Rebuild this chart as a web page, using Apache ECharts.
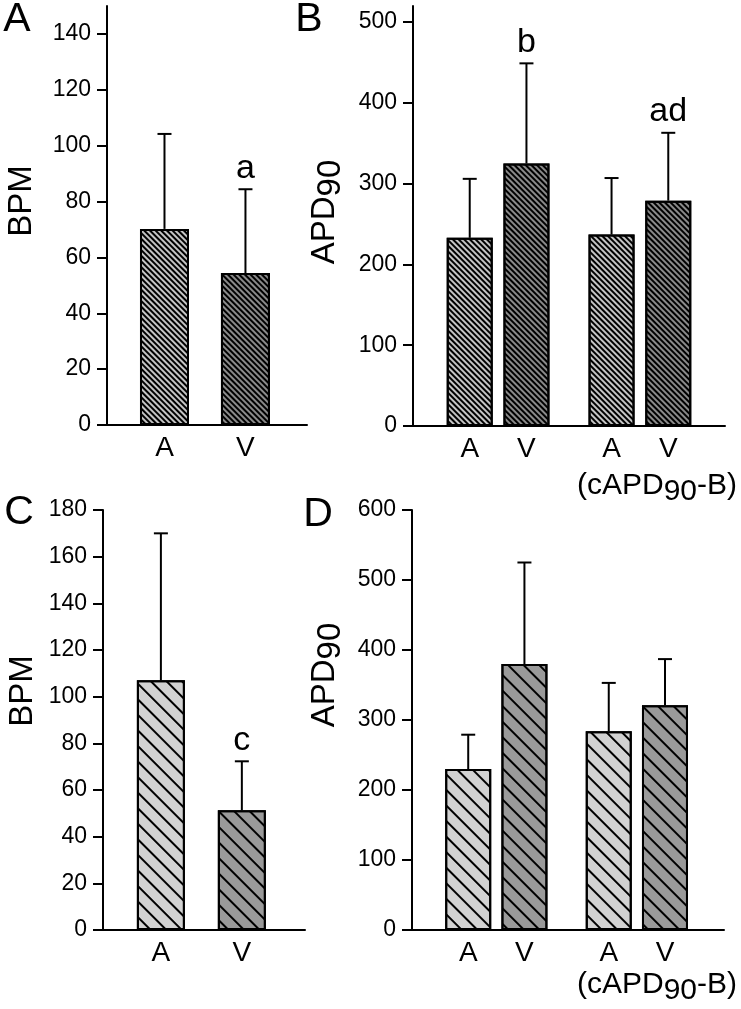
<!DOCTYPE html>
<html><head><meta charset="utf-8">
<script src="https://cdn.jsdelivr.net/npm/echarts@6/dist/echarts.min.js"></script>
<style>html,body{margin:0;padding:0;background:#fff}#c{width:741px;height:1009px}</style>
</head><body><div id="c"></div>
<script>
// ---- data ----
const groupsA = ['A', 'V'];
const bpmAMean = [70.2, 54.4];
const bpmAErr = [34.0, 30.0];
const bpmATicks = [0, 20, 40, 60, 80, 100, 120, 140];
const notesA = ['', 'a'];

const groupsB = ['A', 'V', 'A', 'V'];
const apdBMean = [233, 325, 237, 279];
const apdBErr = [73, 124, 70, 84];
const apdBTicks = [0, 100, 200, 300, 400, 500];
const notesB = ['', 'b', '', 'ad'];

const groupsC = ['A', 'V'];
const bpmCMean = [107, 51.3];
const bpmCErr = [63, 21];
const bpmCTicks = [0, 20, 40, 60, 80, 100, 120, 140, 160, 180];
const notesC = ['', 'c'];

const groupsD = ['A', 'V', 'A', 'V'];
const apdDMean = [230, 380, 284, 321];
const apdDErr = [49, 145, 69, 66];
const apdDTicks = [0, 100, 200, 300, 400, 500, 600];
const notesD = ['', '', '', ''];

// ---- layout / style ----
const FONT = '"Liberation Sans", Arial, Helvetica, sans-serif';
function slotPos(n) { const p = []; for (let i = 0; i < n; i++) p.push(i + 0.5 * Math.floor(i / 2)); return p; }

const fine = {
  light: '#c4c4c4', dark: '#8a8a8a',
  decal: { symbol: 'rect', symbolSize: 1, dashArrayX: [[1, 0]], dashArrayY: [2, 2], rotation: Math.PI / 4, color: '#000' }
};
const coarse = {
  light: '#d2d2d2', dark: '#9a9a9a',
  decal: { symbol: 'rect', symbolSize: 1, dashArrayX: [[1, 0]], dashArrayY: [2, 9], rotation: Math.PI / 4, color: '#000' }
};

const panels = [
  { cats: groupsA, mean: bpmAMean, err: bpmAErr, ticks: bpmATicks, notes: notesA, yMax: 150,
    grid: { left: 107, top: 6, width: 200, height: 419 }, xMin: -0.71, xMax: 1.76, barWidth: 49, hatch: fine },
  { cats: groupsB, mean: apdBMean, err: apdBErr, ticks: apdBTicks, notes: notesB, yMax: 520,
    grid: { left: 413, top: 6, width: 312, height: 420 }, xMin: -1, xMax: 4.5, barWidth: 46, hatch: fine },
  { cats: groupsC, mean: bpmCMean, err: bpmCErr, ticks: bpmCTicks, notes: notesC, yMax: 180,
    grid: { left: 103, top: 510, width: 202, height: 420 }, xMin: -0.715, xMax: 1.78, barWidth: 48, hatch: coarse },
  { cats: groupsD, mean: apdDMean, err: apdDErr, ticks: apdDTicks, notes: notesD, yMax: 600,
    grid: { left: 412, top: 510, width: 312, height: 420 }, xMin: -1, xMax: 4.55, barWidth: 46, hatch: coarse }
];

const grids = [], xAxes = [], yAxes = [], series = [];
panels.forEach((p, k) => {
  const pos = slotPos(p.cats.length);
  grids.push(Object.assign({ outerBoundsMode: 'none', containLabel: false }, p.grid));
  xAxes.push({
    type: 'value', gridIndex: k, min: p.xMin, max: p.xMax,
    splitLine: { show: false }, axisTick: { show: false },
    axisLine: { show: true, onZero: false, lineStyle: { color: '#000', width: 2 } },
    axisLabel: {
      customValues: pos, margin: 9, fontSize: 28, color: '#000', fontFamily: FONT,
      formatter: v => { const i = pos.findIndex(q => Math.abs(q - v) < 1e-6); return i >= 0 ? p.cats[i] : ''; }
    }
  });
  yAxes.push({
    type: 'value', gridIndex: k, min: 0, max: p.yMax,
    splitLine: { show: false },
    axisLine: { show: true, onZero: false, lineStyle: { color: '#000', width: 2 } },
    axisTick: { show: true, length: 10, customValues: p.ticks, lineStyle: { color: '#000', width: 2 } },
    axisLabel: { customValues: p.ticks, margin: 16, fontSize: 23, color: '#000', fontFamily: FONT }
  });
  series.push({
    type: 'bar', xAxisIndex: k, yAxisIndex: k, barWidth: p.barWidth,
    data: p.mean.map((m, i) => ({
      value: [pos[i], m],
      itemStyle: {
        color: p.cats[i] === 'A' ? p.hatch.light : p.hatch.dark,
        borderColor: '#000', borderWidth: 2,
        decal: p.hatch.decal
      }
    }))
  });
  series.push({
    type: 'custom', xAxisIndex: k, yAxisIndex: k, z: 5,
    encode: { x: 0, y: 1 },
    data: p.mean.map((m, i) => [pos[i], m, p.err[i]]),
    renderItem: (params, api) => {
      const x = api.value(0), m = api.value(1), e = api.value(2);
      const p0 = api.coord([x, m]), p1 = api.coord([x, m + e]);
      const ch = [
        { type: 'line', shape: { x1: p0[0], y1: p0[1], x2: p1[0], y2: p1[1] }, style: { stroke: '#000', lineWidth: 2 } },
        { type: 'line', shape: { x1: p1[0] - 7, y1: p1[1], x2: p1[0] + 7, y2: p1[1] }, style: { stroke: '#000', lineWidth: 2 } }
      ];
      const note = p.notes[params.dataIndex];
      if (note) ch.push({ type: 'text', style: { text: note, x: p1[0], y: p1[1] - 4, align: 'center', verticalAlign: 'bottom', fontSize: 34, fontFamily: FONT, fill: '#000' } });
      return { type: 'group', children: ch };
    }
  });
});

function txt(text, x, y, size, rot, rich) {
  return { type: 'text', x: x, y: y, rotation: rot || 0,
    style: { text: text, fontSize: size, fontFamily: FONT, fill: '#000', align: 'center', verticalAlign: 'middle', rich: rich } };
}
const subRich = {
  m: { fontSize: 30, fontFamily: FONT, verticalAlign: 'top', lineHeight: 36 },
  s: { fontSize: 30, fontFamily: FONT, verticalAlign: 'top', lineHeight: 36, padding: [6, 0, 0, 0] }
};
const ySubRich = {
  m: { fontSize: 33, fontFamily: FONT, verticalAlign: 'top', lineHeight: 38 },
  s: { fontSize: 33, fontFamily: FONT, verticalAlign: 'top', lineHeight: 38, padding: [6, 0, 0, 0] }
};
const graphics = [
  txt('A', 17, 20, 41), txt('B', 309, 20, 41), txt('C', 19, 513, 41), txt('D', 318, 515, 41),
  txt('BPM', 22, 201, 33, Math.PI / 2), txt('BPM', 23, 691, 33, Math.PI / 2),
  txt('{m|APD}{s|90}', 327, 212, 33, Math.PI / 2, ySubRich),
  txt('{m|APD}{s|90}', 327, 675, 33, Math.PI / 2, ySubRich),
  txt('{m|(cAPD}{s|90}{m|-B)}', 657, 489, 30, 0, subRich),
  txt('{m|(cAPD}{s|90}{m|-B)}', 657, 988, 30, 0, subRich)
];

const chart = echarts.init(document.getElementById('c'), null, { renderer: 'canvas' });
chart.setOption({
  animation: false,
  backgroundColor: '#fff',
  grid: grids, xAxis: xAxes, yAxis: yAxes, series: series,
  graphic: graphics
});
</script></body></html>
